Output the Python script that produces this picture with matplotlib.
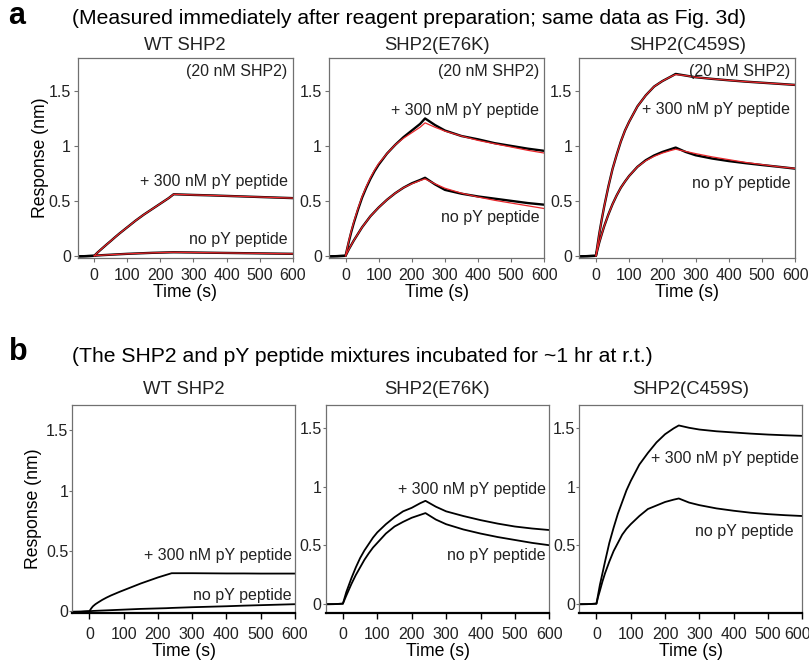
import matplotlib.pyplot as plt
from matplotlib.transforms import ScaledTranslation

plt.rcParams['font.family'] = ['Liberation Sans', 'DejaVu Sans']

# time points (s): baseline, association, dissociation
t_base = [-50, -25, 0]
t_on = [0, 5, 10, 17.5, 25, 37.5, 50, 62.5, 75, 87.5, 100, 125, 150, 175, 200, 225, 240]
t_off = [240, 270, 300, 350, 400, 450, 500, 550, 600]

panel_titles = ["WT SHP2", "SHP2(E76K)", "SHP2(C459S)"]
x_ticks = [0, 100, 200, 300, 400, 500, 600]
y_ticks = [0, 0.5, 1, 1.5]
y_tick_labels = ["0", "0.5", "1", "1.5"]

# ---- row a: measured right after mixing (black = data, red = fit) ----
a_base = [-0.005, -0.003, 0]
a_wt_pep_on = [0, 0.015, 0.03, 0.05, 0.07, 0.103, 0.135, 0.168, 0.20, 0.23, 0.26,
               0.32, 0.375, 0.425, 0.475, 0.525, 0.56]
a_wt_pep_off = [0.56, 0.557, 0.554, 0.55, 0.545, 0.54, 0.535, 0.53, 0.525]
a_wt_pep_fit_on = a_wt_pep_on
a_wt_pep_fit_off = a_wt_pep_off
a_wt_none_on = [0, 0.0015, 0.003, 0.0045, 0.006, 0.008, 0.01, 0.012, 0.014, 0.016, 0.018,
                0.021, 0.024, 0.027, 0.029, 0.031, 0.032]
a_wt_none_off = [0.032, 0.031, 0.03, 0.028, 0.026, 0.024, 0.022, 0.02, 0.018]
a_wt_none_fit_on = a_wt_none_on
a_wt_none_fit_off = a_wt_none_off

a_e76k_pep_on = [0, 0.066, 0.13, 0.22, 0.30, 0.42, 0.53, 0.62, 0.70, 0.77, 0.83,
                 0.93, 1.01, 1.08, 1.14, 1.20, 1.25]
a_e76k_pep_off = [1.25, 1.19, 1.14, 1.09, 1.06, 1.025, 1.0, 0.975, 0.955]
a_e76k_pep_fit_on = [0, 0.07, 0.14, 0.23, 0.31, 0.43, 0.54, 0.63, 0.71, 0.78, 0.84,
                     0.93, 1.01, 1.07, 1.12, 1.17, 1.21]
a_e76k_pep_fit_off = [1.21, 1.17, 1.135, 1.09, 1.05, 1.02, 0.99, 0.96, 0.935]
a_e76k_none_on = [0, 0.03, 0.06, 0.10, 0.14, 0.20, 0.26, 0.31, 0.36, 0.40, 0.44,
                  0.51, 0.57, 0.62, 0.66, 0.69, 0.71]
a_e76k_none_off = [0.71, 0.65, 0.60, 0.565, 0.54, 0.52, 0.50, 0.48, 0.465]
a_e76k_none_fit_on = [0, 0.03, 0.06, 0.10, 0.14, 0.20, 0.26, 0.31, 0.36, 0.40, 0.44,
                      0.51, 0.57, 0.62, 0.655, 0.685, 0.70]
a_e76k_none_fit_off = [0.70, 0.655, 0.615, 0.57, 0.535, 0.505, 0.48, 0.455, 0.43]

a_c459s_pep_on = [0, 0.10, 0.20, 0.33, 0.45, 0.63, 0.79, 0.92, 1.04, 1.14, 1.22,
                  1.36, 1.46, 1.54, 1.59, 1.63, 1.655]
a_c459s_pep_off = [1.655, 1.64, 1.625, 1.61, 1.597, 1.585, 1.575, 1.565, 1.555]
a_c459s_pep_fit_on = [0, 0.10, 0.20, 0.33, 0.45, 0.63, 0.79, 0.92, 1.04, 1.14, 1.22,
                      1.36, 1.46, 1.54, 1.59, 1.63, 1.65]
a_c459s_pep_fit_off = [1.65, 1.64, 1.625, 1.61, 1.597, 1.585, 1.575, 1.565, 1.555]
a_c459s_none_on = [0, 0.06, 0.12, 0.197, 0.27, 0.376, 0.47, 0.55, 0.62, 0.676, 0.727,
                   0.81, 0.87, 0.913, 0.945, 0.97, 0.985]
a_c459s_none_off = [0.985, 0.945, 0.915, 0.885, 0.862, 0.843, 0.826, 0.81, 0.793]
a_c459s_none_fit_on = [0, 0.06, 0.12, 0.197, 0.27, 0.376, 0.47, 0.55, 0.62, 0.676, 0.727,
                       0.81, 0.865, 0.905, 0.935, 0.958, 0.97]
a_c459s_none_fit_off = [0.97, 0.95, 0.93, 0.90, 0.875, 0.85, 0.83, 0.81, 0.795]

# ---- row b: mixtures incubated ~1 hr ----
b_base = [-0.005, -0.004, 0]
b_wt_pep_on = [0, 0.022, 0.04, 0.058, 0.072, 0.094, 0.113, 0.13, 0.145, 0.16, 0.174,
               0.202, 0.23, 0.255, 0.28, 0.302, 0.315]
b_wt_pep_off = [0.315, 0.315, 0.315, 0.314, 0.313, 0.313, 0.312, 0.312, 0.312]
b_wt_none_on = [0, 0.001, 0.002, 0.003, 0.004, 0.0055, 0.007, 0.0085, 0.01, 0.0115, 0.013,
                0.016, 0.019, 0.021, 0.023, 0.025, 0.027]
b_wt_none_off = [0.027, 0.03, 0.033, 0.037, 0.041, 0.046, 0.05, 0.054, 0.058]

b_e76k_pep_on = [0, 0.05, 0.10, 0.16, 0.22, 0.31, 0.39, 0.455, 0.51, 0.565, 0.61,
                 0.68, 0.74, 0.79, 0.82, 0.86, 0.88]
b_e76k_pep_off = [0.88, 0.83, 0.79, 0.75, 0.715, 0.685, 0.66, 0.643, 0.63]
b_e76k_none_on = [0, 0.035, 0.07, 0.12, 0.17, 0.245, 0.31, 0.375, 0.43, 0.48, 0.52,
                  0.60, 0.66, 0.70, 0.735, 0.76, 0.775]
b_e76k_none_off = [0.775, 0.72, 0.68, 0.635, 0.60, 0.57, 0.545, 0.52, 0.50]

b_c459s_pep_on = [0, 0.08, 0.16, 0.26, 0.36, 0.52, 0.65, 0.77, 0.87, 0.97, 1.05,
                  1.19, 1.29, 1.38, 1.45, 1.50, 1.525]
b_c459s_pep_off = [1.525, 1.505, 1.49, 1.475, 1.465, 1.455, 1.447, 1.441, 1.436]
b_c459s_none_on = [0, 0.06, 0.11, 0.19, 0.26, 0.36, 0.45, 0.52, 0.59, 0.64, 0.68,
                   0.75, 0.81, 0.84, 0.87, 0.89, 0.90]
b_c459s_none_off = [0.90, 0.865, 0.843, 0.815, 0.795, 0.778, 0.766, 0.757, 0.75]

# label y positions (nm) per panel: (+pY, no pY)
a_label_y = [(0.675, 0.145), (1.32, 0.345), (1.33, 0.655)]
b_label_y = [(0.464, 0.133), (0.978, 0.416), (1.243, 0.615)]


def trace(base, on, off):
    t = t_base + t_on[1:] + t_off[1:]
    y = list(base) + list(on[1:]) + list(off[1:])
    return t, y


W, H = 809, 663
fig = plt.figure(figsize=(W / 100, H / 100), dpi=100)


def px_axes(x0, x1, y0, y1):
    return fig.add_axes([x0 / W, 1 - y1 / H, (x1 - x0) / W, (y1 - y0) / H])


a_x = [(77.7, 292.7), (329, 544.3), (579.3, 795.3)]
b_x = [(72.3, 295), (325.7, 549.3), (579.3, 802.3)]

a_data = [
    (a_wt_pep_on, a_wt_pep_off, a_wt_pep_fit_on, a_wt_pep_fit_off,
     a_wt_none_on, a_wt_none_off, a_wt_none_fit_on, a_wt_none_fit_off),
    (a_e76k_pep_on, a_e76k_pep_off, a_e76k_pep_fit_on, a_e76k_pep_fit_off,
     a_e76k_none_on, a_e76k_none_off, a_e76k_none_fit_on, a_e76k_none_fit_off),
    (a_c459s_pep_on, a_c459s_pep_off, a_c459s_pep_fit_on, a_c459s_pep_fit_off,
     a_c459s_none_on, a_c459s_none_off, a_c459s_none_fit_on, a_c459s_none_fit_off),
]
b_data = [
    (b_wt_pep_on, b_wt_pep_off, b_wt_none_on, b_wt_none_off),
    (b_e76k_pep_on, b_e76k_pep_off, b_e76k_none_on, b_e76k_none_off),
    (b_c459s_pep_on, b_c459s_pep_off, b_c459s_none_on, b_c459s_none_off),
]

grey = '#707070'
txt = '#222222'

# row a
for i, (x0, x1) in enumerate(a_x):
    ax = px_axes(x0, x1, 58, 258)
    p_on, p_off, pf_on, pf_off, n_on, n_off, nf_on, nf_off = a_data[i]
    for on, off in [(p_on, p_off), (n_on, n_off)]:
        t, y = trace(a_base, on, off)
        ax.plot(t, y, color='black', lw=1.7)
    for on, off in [(pf_on, pf_off), (nf_on, nf_off)]:
        ax.plot(t_on + t_off[1:], list(on) + list(off[1:]), color='#e8262a', lw=0.9)
    ax.set_xlim(-50, 600)
    ax.set_ylim(-0.02, 1.8)
    ax.set_xticks(x_ticks)
    ax.set_yticks(y_ticks)
    ax.set_yticklabels(y_tick_labels)
    for s in ax.spines.values():
        s.set_color(grey)
        s.set_linewidth(0.9)
    ax.tick_params(direction='out', length=3, width=0.8, color=grey,
                   labelsize=11.5, labelcolor=txt, pad=2)
    ax.tick_params(axis='x', pad=4)
    ax.set_title(panel_titles[i], fontsize=13.3, color=txt, pad=6)
    ax.set_xlabel("Time (s)", fontsize=12.7, labelpad=1)
    ax.text(585, 1.68, "(20 nM SHP2)", ha='right', va='center', fontsize=11.5, color=txt)
    ax.text(585, a_label_y[i][0], "+ 300 nM pY peptide", ha='right', va='center', fontsize=11.5, color=txt)
    ax.text(585, a_label_y[i][1], "no pY peptide", ha='right', va='center', fontsize=11.5, color=txt)
    if i == 0:
        ax.set_ylabel("Response (nm)", fontsize=12.7, labelpad=0)

# row b
b_ylim = [(-0.015, 1.71), (-0.08, 1.70), (-0.08, 1.70)]
for i, (x0, x1) in enumerate(b_x):
    ax = px_axes(x0, x1, 405, 613)
    p_on, p_off, n_on, n_off = b_data[i]
    for on, off in [(p_on, p_off), (n_on, n_off)]:
        t, y = trace(b_base, on, off)
        ax.plot(t, y, color='black', lw=1.3)
    ax.set_xlim(-50, 600)
    ax.set_ylim(*b_ylim[i])
    ax.set_xticks(x_ticks)
    ax.set_yticks(y_ticks)
    ax.set_yticklabels(y_tick_labels)
    for s in ['top', 'right', 'left']:
        ax.spines[s].set_color(grey)
        ax.spines[s].set_linewidth(0.9)
    ax.spines['bottom'].set_color('black')
    ax.spines['bottom'].set_linewidth(1.6)
    ax.tick_params(axis='y', direction='out', length=2, width=0.8, color=grey,
                   labelsize=11.5, labelcolor=txt, pad=1)
    ax.tick_params(axis='x', direction='out', length=4, width=1.0, color='black',
                   labelsize=11.5, labelcolor=txt, pad=6)
    ax.set_title(panel_titles[i], fontsize=13.3, color=txt, pad=8)
    ax.set_xlabel("Time (s)", fontsize=12.7, labelpad=1)
    ax.text(590, b_label_y[i][0], "+ 300 nM pY peptide", ha='right', va='center', fontsize=11.5, color=txt)
    ax.text(575 if i == 2 else 590, b_label_y[i][1], "no pY peptide", ha='right', va='center', fontsize=11.5, color=txt)
    if i == 0:
        ax.set_ylabel("Response (nm)", fontsize=12.7, labelpad=3)
    if i == 2:
        # last tick label sits a little left of its tick, as in the figure
        fig.canvas.draw()
        last = ax.get_xticklabels()[-1]
        last.set_transform(last.get_transform() + ScaledTranslation(-5 / 100, 0, fig.dpi_scale_trans))

fig.text(8 / W, 1 - 16 / H, "a", fontsize=22, fontweight='bold', va='center', ha='left')
fig.text(72 / W, 1 - 18 / H, "(Measured immediately after reagent preparation; same data as Fig. 3d)",
         fontsize=15.2, va='center', ha='left')
fig.text(9 / W, 1 - 352 / H, "b", fontsize=22, fontweight='bold', va='center', ha='left')
fig.text(72 / W, 1 - 356 / H, "(The SHP2 and pY peptide mixtures incubated for ~1 hr at r.t.)",
         fontsize=15.2, va='center', ha='left')

fig.savefig("out.png", dpi=100)
